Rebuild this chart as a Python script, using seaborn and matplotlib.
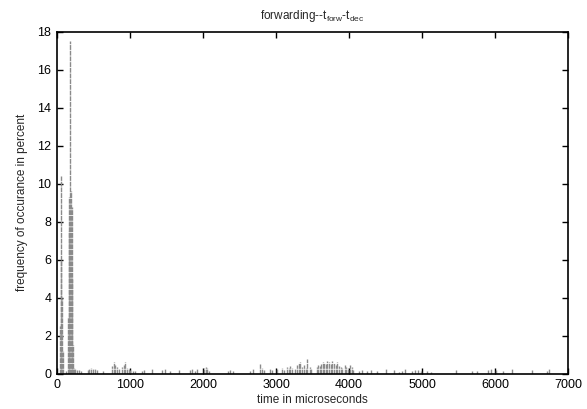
"""Histogram of forwarding delay (t_forw - t_dec) drawn as gnuplot-style impulses."""

import matplotlib

matplotlib.use("Agg")
import matplotlib.pyplot as plt
import pandas as pd
import seaborn as sns

# main cluster near the start (time in microseconds, frequency in percent)
PEAK_TIMES = [40, 50, 60, 70, 80, 128, 150, 160, 170, 180, 190, 200, 210, 220, 230]
PEAK_FREQ = [2.5, 6.0, 10.4, 4.0, 1.2, 0.15, 3.0, 7.5, 9.3, 17.5, 9.6, 8.8, 5.0, 1.5, 0.3]

# scattered small occurrences in the tail
TAIL_TIMES = [
    250, 275, 297, 330, 420, 443, 470, 494, 525, 548, 630, 754, 777, 800, 823, 845,
    891, 914, 937, 960, 983, 1005, 1042, 1074, 1165, 1197, 1302, 1440, 1476, 1554,
    1677, 1819, 1851, 1887, 1919, 2011, 2034, 2056, 2084, 2343, 2375, 2411, 2649,
    2685, 2786, 2804, 2841, 2914, 2946, 3015, 3083, 3106, 3152, 3174, 3197, 3220,
    3266, 3289, 3312, 3334, 3357, 3389, 3408, 3430, 3458, 3472, 3554, 3572, 3595,
    3618, 3641, 3663, 3686, 3700, 3723, 3746, 3769, 3791, 3814, 3837, 3860, 3883,
    3906, 3938, 3961, 3983, 4011, 4034, 4056, 4134, 4180, 4248, 4294, 4385, 4500,
    4614, 4681, 4727, 4759, 4864, 4909, 4941, 4978, 5060, 5115, 5458, 5686, 5755,
    5901, 5947, 6006, 6111, 6235, 6509, 6705, 6737,
]
TAIL_FREQ = [
    0.25, 0.2, 0.2, 0.15, 0.2, 0.25, 0.3, 0.25, 0.25, 0.2, 0.15, 0.4, 0.6, 0.45, 0.35, 0.25,
    0.35, 0.45, 0.6, 0.3, 0.25, 0.2, 0.15, 0.15, 0.15, 0.2, 0.25, 0.2, 0.25, 0.15,
    0.2, 0.2, 0.25, 0.15, 0.25, 0.3, 0.35, 0.3, 0.15, 0.15, 0.2, 0.15, 0.15,
    0.25, 0.5, 0.3, 0.2, 0.25, 0.2, 0.25, 0.3, 0.2, 0.35, 0.3, 0.4, 0.3,
    0.25, 0.45, 0.55, 0.6, 0.35, 0.45, 0.3, 0.78, 0.35, 0.25, 0.35, 0.45, 0.4,
    0.5, 0.6, 0.55, 0.5, 0.65, 0.6, 0.5, 0.7, 0.55, 0.45, 0.6, 0.4, 0.35,
    0.3, 0.45, 0.35, 0.3, 0.45, 0.35, 0.2, 0.15, 0.2, 0.15, 0.2, 0.15, 0.25,
    0.2, 0.1, 0.15, 0.25, 0.15, 0.2, 0.2, 0.15, 0.15, 0.1, 0.2, 0.15, 0.15,
    0.2, 0.25, 0.2, 0.15, 0.25, 0.2, 0.15, 0.25,
]

X_TICKS = [0, 1000, 2000, 3000, 4000, 5000, 6000, 7000]
Y_TICKS = [0, 2, 4, 6, 8, 10, 12, 14, 16, 18]

sns.set_theme(style="ticks")
plt.rcParams["font.family"] = ["Liberation Sans", "DejaVu Sans"]
plt.rcParams["mathtext.fontset"] = "custom"
plt.rcParams["mathtext.rm"] = "Liberation Sans"

data = pd.DataFrame({
    "time": PEAK_TIMES + TAIL_TIMES,
    "freq": PEAK_FREQ + TAIL_FREQ,
})

fig = plt.figure(figsize=(5.87, 4.09), dpi=100)
ax = fig.add_axes([0.097, 0.086, 0.871, 0.836])

ax.vlines(data["time"], 0, data["freq"], color="#8a8a8a", linewidth=1.0,
          linestyles=(0, (3.5, 0.6)))

ax.set_xlim(0, 7000)
ax.set_ylim(0, 18)
ax.set_xticks(X_TICKS)
ax.set_yticks(Y_TICKS)
ax.tick_params(direction="in", length=4.5, width=1, top=True, right=True,
               labelsize=9, color="black", labelcolor="black", pad=4)
for spine in ax.spines.values():
    spine.set_visible(True)
    spine.set_color("black")
    spine.set_linewidth(1.2)

ax.set_xlabel("time in microseconds", fontsize=8.5, labelpad=2)
ax.set_ylabel("frequency of occurance in percent", fontsize=8.5, labelpad=7)
ax.set_title(r"forwarding--t$_\mathregular{forw}$-t$_\mathregular{dec}$", fontsize=8.5, pad=9)

fig.savefig("out.png", dpi=100)
plt.close(fig)
